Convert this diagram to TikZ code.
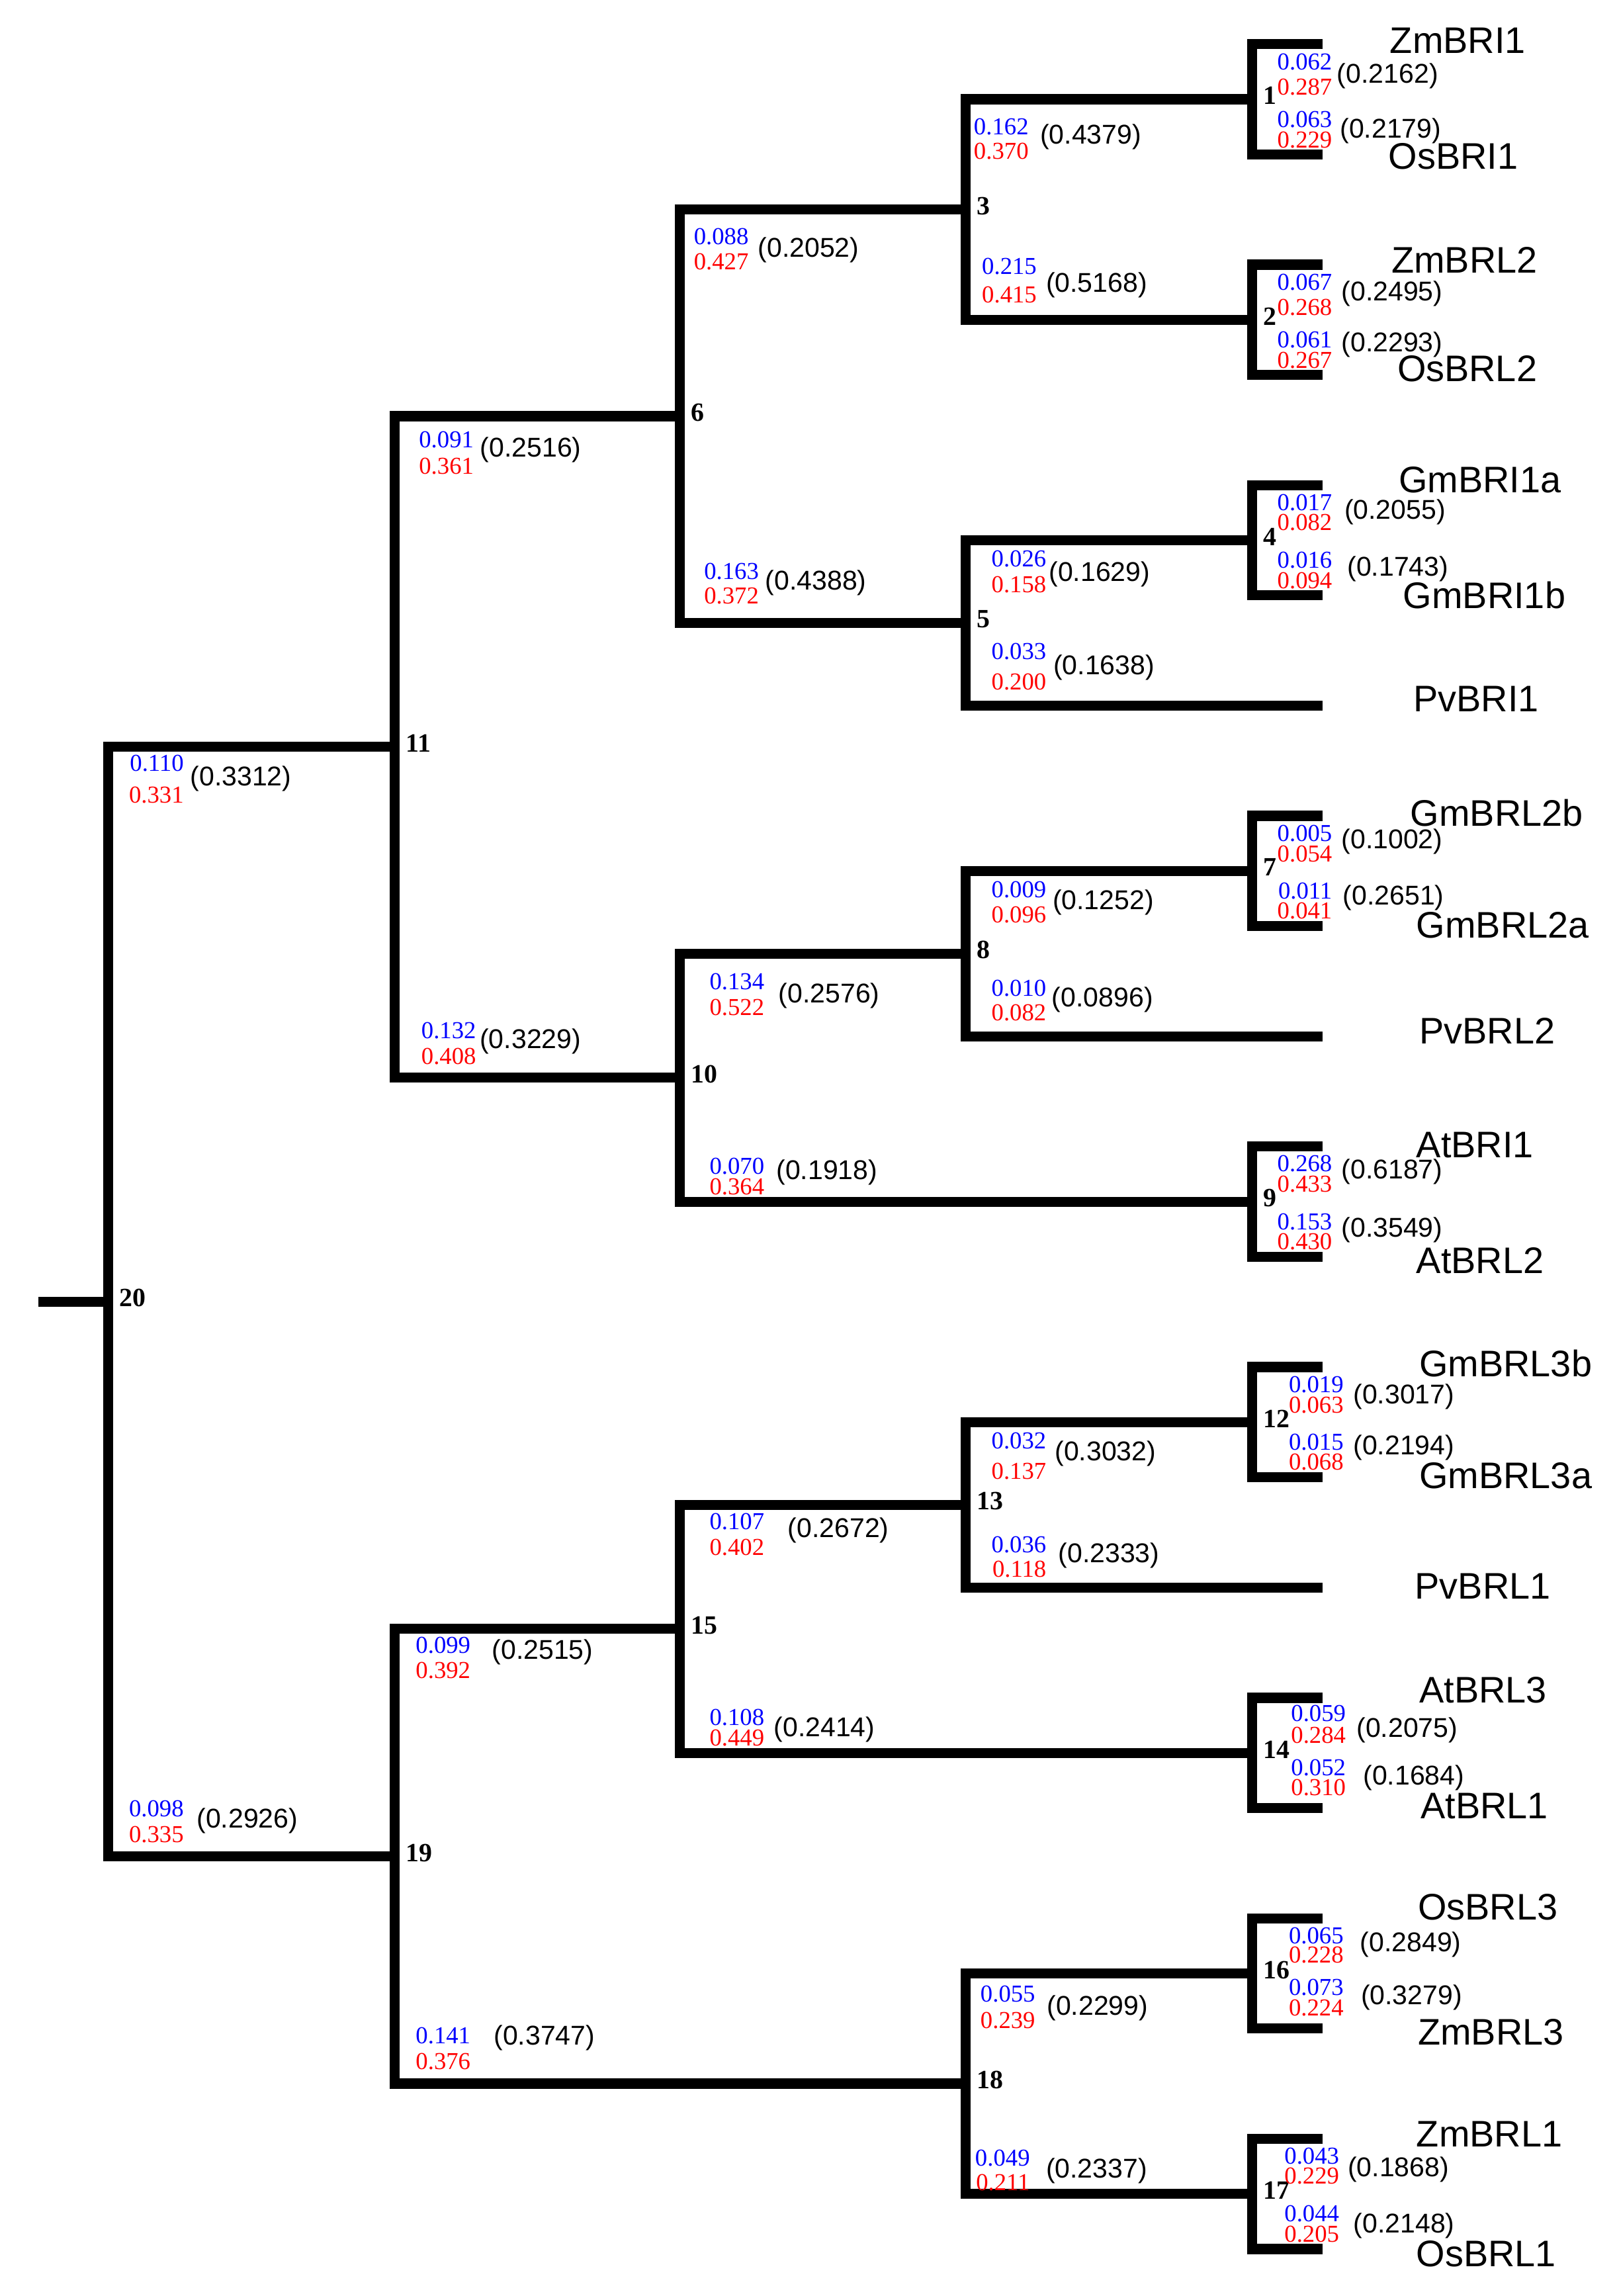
\documentclass[tikz,border=0pt]{standalone}
\usepackage{fontspec}
\setmainfont{Liberation Serif}
\setsansfont{Liberation Sans}
\usetikzlibrary{calc}
\tikzset{every node/.style={inner sep=0pt}}

\begin{document}
\begin{tikzpicture}[x=0.01cm,y=-0.01cm,
                br/.style={draw=black,line width=1.95pt},
                taxon/.style={font=\fontsize{7.15}{8}\sffamily,anchor=west},
                bv/.style={font=\fontsize{4.7}{5}\selectfont,text=blue,anchor=east},
                rv/.style={font=\fontsize{4.7}{5}\selectfont,text=red,anchor=east},
                kv/.style={font=\fontsize{5.25}{6}\sffamily,anchor=west},
                nd/.style={font=\fontsize{5.1}{6}\bfseries,anchor=west}]
                \useasboundingbox (0,0) rectangle (1100,1562);
                \foreach \t [count=\i from 0] in {ZmBRI1,OsBRI1,ZmBRL2,OsBRL2,GmBRI1a,GmBRI1b,PvBRI1,
                    GmBRL2b,GmBRL2a,PvBRL2,AtBRI1,AtBRL2,GmBRL3b,GmBRL3a,PvBRL1,AtBRL3,AtBRL1,
                    OsBRL3,ZmBRL3,ZmBRL1,OsBRL1}
                    \coordinate (\t) at (900,30+75*\i);
                \foreach \n/\x/\y in {1/852/67.5,2/852/217.5,3/657/142.5,4/852/367.5,5/657/423.75,
                    6/462.5/283.125,7/852/592.5,8/657/648.75,9/852/817.5,10/462.5/733.125,
                    11/268.5/508.125,12/852/967.5,13/657/1023.75,14/852/1192.5,15/462.5/1108.125,
                    16/852/1342.5,17/852/1492.5,18/657/1417.5,19/268.5/1262.81,20/73.5/885.47}
                    \coordinate (n\n) at (\x,\y);
                \coordinate (root) at (26,885.47);
                \foreach \n/\a/\b in {1/ZmBRI1/OsBRI1,2/ZmBRL2/OsBRL2,3/n1/n2,4/GmBRI1a/GmBRI1b,
                    5/n4/PvBRI1,6/n3/n5,7/GmBRL2b/GmBRL2a,8/n7/PvBRL2,9/AtBRI1/AtBRL2,10/n8/n9,
                    11/n6/n10,12/GmBRL3b/GmBRL3a,13/n12/PvBRL1,14/AtBRL3/AtBRL1,15/n13/n14,
                    16/OsBRL3/ZmBRL3,17/ZmBRL1/OsBRL1,18/n16/n17,19/n15/n18,20/n11/n19}{
                    \draw[br] (\a) -| (n\n) |- (\b);
                    \node[nd] (l\n) at ($(n\n)+(7,-2.4)$) {\n};
                }
                \draw[br] (root) -- (n20);
                \foreach \t/\x/\y in {ZmBRI1/945/27.6,OsBRI1/944/106.2,ZmBRL2/946/176.8,OsBRL2/950/250.9,
                    GmBRI1a/951/326.5,GmBRI1b/954/404.9,PvBRI1/961/475.4,GmBRL2b/959/553,
                    GmBRL2a/963/629.5,PvBRL2/965/701.3,AtBRI1/963/779,AtBRL2/963/857.5,
                    GmBRL3b/965/927.7,GmBRL3a/965/1003.9,PvBRL1/962/1079,AtBRL3/965/1149.8,
                    AtBRL1/966/1228.7,OsBRL3/964/1297.3,ZmBRL3/964/1382.3,ZmBRL1/963/1451.6,
                    OsBRL1/963/1533.3}
                    \node[taxon] (t\t) at (\x,\y) {\t};
                \foreach \c/\rx/\yb/\yr/\kx/\ky/\vb/\vr/\vk in {
                    ZmBRI1/907/42/59.3/909/51.7/0.062/0.287/0.2162,
                    OsBRI1/907/81.4/95.2/911/89/0.063/0.229/0.2179,
                    ZmBRL2/907/192/209/912/199.8/0.067/0.268/0.2495,
                    OsBRL2/907/231.2/245/912/234.3/0.061/0.267/0.2293,
                    n1/700.5/86/103/707/93/0.162/0.370/0.4379,
                    n2/706/181.4/200.7/711/193.8/0.215/0.415/0.5168,
                    GmBRI1a/907/342/355.3/914/348.4/0.017/0.082/0.2055,
                    GmBRI1b/907/381/395/916/387/0.016/0.094/0.1743,
                    n4/712.5/380/397.5/713/390.6/0.026/0.158/0.1629,
                    PvBRI1/712.5/443/464/716/454.3/0.033/0.200/0.1638,
                    n3/510/160.8/178.2/515/170.3/0.088/0.427/0.2052,
                    n5/517/388.9/405.2/520/396.3/0.163/0.372/0.4388,
                    GmBRL2b/907/567/580.8/912/572.7/0.005/0.054/0.1002,
                    GmBRL2a/907/606.3/619.8/913/610.6/0.011/0.041/0.2651,
                    n7/712.5/605/622.4/715.5/614/0.009/0.096/0.1252,
                    PvBRL2/712.5/672.4/689/715/680/0.010/0.082/0.0896,
                    AtBRI1/907/791.8/805.6/912/797/0.268/0.433/0.6187,
                    AtBRL2/907/831.3/844.6/912/836.8/0.153/0.430/0.3549,
                    n8/520.7/668/685.3/529/677.4/0.134/0.522/0.2576,
                    n9/520.7/793.6/807.4/527.5/797.6/0.070/0.364/0.1918,
                    n6/323/299/317/326/306/0.091/0.361/0.2516,
                    n10/324.6/700.9/718.5/325.8/708.4/0.132/0.408/0.3229,
                    GmBRL3b/914.8/942/955.7/920/950.3/0.019/0.063/0.3017,
                    GmBRL3a/914.8/981/994.8/920/984.7/0.015/0.068/0.2194,
                    n12/712.5/980/1001/717/989/0.032/0.137/0.3032,
                    PvBRL1/712.5/1050.7/1067.7/719.4/1058.4/0.036/0.118/0.2333,
                    AtBRL3/916.3/1165.7/1180.3/922.3/1177/0.059/0.284/0.2075,
                    AtBRL1/916.3/1202.4/1216/926.8/1209.5/0.052/0.310/0.1684,
                    n13/520.7/1035.3/1052.8/535.3/1041/0.107/0.402/0.2672,
                    n14/520.7/1168.3/1182.4/525.8/1176.7/0.108/0.449/0.2414,
                    OsBRL3/914.8/1316.7/1330/924.7/1323/0.065/0.228/0.2849,
                    ZmBRL3/914.8/1352/1365.8/925.3/1359/0.073/0.224/0.3279,
                    ZmBRL1/911.8/1466.7/1480.5/916.3/1476/0.043/0.229/0.1868,
                    OsBRL1/911.8/1505.9/1519.8/920.2/1514.4/0.044/0.205/0.2148,
                    n16/705/1356.5/1374.3/711.6/1365.9/0.055/0.239/0.2299,
                    n17/701.4/1468/1485/711/1477/0.049/0.211/0.2337,
                    n15/320.8/1119.2/1136.5/334/1123.8/0.099/0.392/0.2515,
                    n18/320.8/1385/1402.3/335.3/1386.5/0.141/0.376/0.3747,
                    n11/125.7/519.3/541/128.8/529.8/0.110/0.331/0.3312,
                    n19/125.7/1230.4/1247.9/133.2/1238.6/0.098/0.335/0.2926}{
                    \node[bv] (b\c) at (\rx,\yb) {\vb};
                    \node[rv] (r\c) at (\rx,\yr) {\vr};
                    \node[kv] (k\c) at (\kx,\ky) {(\vk)};
                }
            \end{tikzpicture}
\end{document}
